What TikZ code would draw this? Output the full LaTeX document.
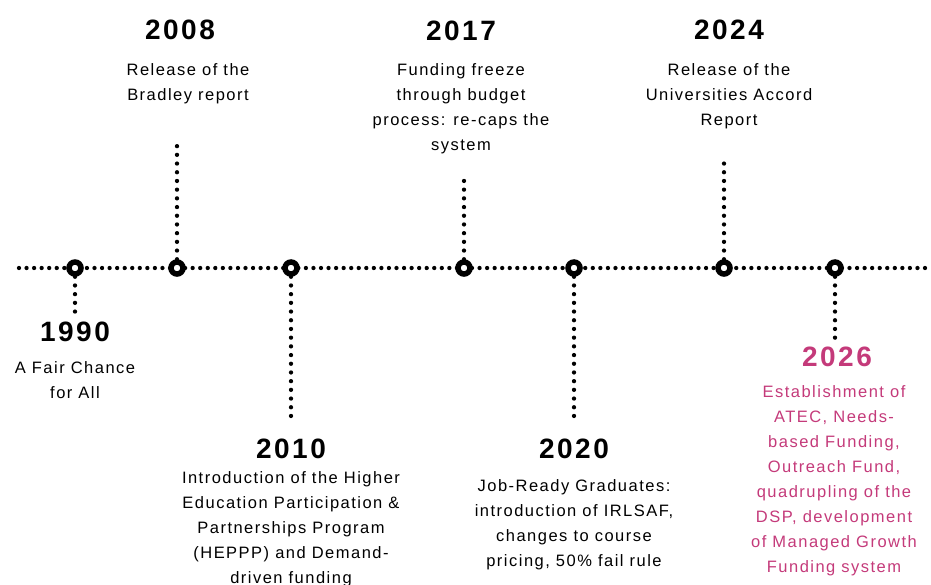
\documentclass[tikz,border=0pt]{standalone}
\usepackage{fontspec}
\setmainfont{Liberation Sans}[LetterSpace=9]
\definecolor{rose}{RGB}{196,58,122}
\begin{document}
\begin{tikzpicture}[x=1pt,y=-1pt,
  hdots/.style={line width=4.3pt, line cap=round, dash pattern=on 0pt off 7.55pt},
  vdots/.style={line width=4.3pt, line cap=round, dash pattern=on 0pt off 8.7pt},
  milestone/.style={circle, draw, line width=5.5pt, fill=white, minimum size=12pt, inner sep=0pt},
  year/.style={font=\fontsize{28}{30}\selectfont\bfseries, inner sep=0pt},
  desc/.style={font=\fontsize{16.5}{25}\selectfont, align=center, anchor=north, inner sep=0pt}]
\useasboundingbox (0,0) rectangle (931,584);

% main time axis
\coordinate (tl) at (19,268);
\coordinate (tr) at (926,268);
\draw[hdots] (tl) -- (tr);

% milestones on the axis
\node[milestone] (c1990) at (75,268) {};
\node[milestone] (c2008) at (177,268) {};
\node[milestone] (c2010) at (291,268) {};
\node[milestone] (c2017) at (464,268) {};
\node[milestone] (c2020) at (574,268) {};
\node[milestone] (c2024) at (724,268) {};
\node[milestone] (c2026) at (835,268) {};

% free ends of the stems
\coordinate (e1990) at (75,313);
\coordinate (e2008) at (177,140);
\coordinate (e2010) at (291,419);
\coordinate (e2017) at (464,180);
\coordinate (e2020) at (574,419);
\coordinate (e2024) at (724,155);
\coordinate (e2026) at (835,340);

\foreach \y in {1990,2008,2010,2017,2020,2024,2026}
  \draw[vdots] (c\y) -- (e\y);

% years and descriptions
\node[year] (y1990) at (75,332) {1990};
\node[desc] (t1990) at (75,361) {A Fair Chance\\for All};

\node[year] (y2008) at (180,30) {2008};
\node[desc] (t2008) at (188,63) {Release of the\\Bradley report};

\node[year] (y2010) at (291,449) {2010};
\node[desc] (t2010) at (291,471) {Introduction of the Higher\\Education Participation \&\\Partnerships Program\\(HEPPP) and Demand-\\driven funding};

\node[year] (y2017) at (461,31) {2017};
\node[desc] (t2017) at (461,63) {Funding freeze\\through budget\\process: re-caps the\\system};

\node[year] (y2020) at (574,449) {2020};
\node[desc] (t2020) at (574,479) {Job-Ready Graduates:\\introduction of IRLSAF,\\changes to course\\pricing, 50\% fail rule};

\node[year] (y2024) at (729,30) {2024};
\node[desc] (t2024) at (729,63) {Release of the\\Universities Accord\\Report};

\node[year, text=rose] (y2026) at (837,357) {2026};
\node[desc, text=rose] (t2026) at (834,385) {Establishment of\\ATEC, Needs-\\based Funding,\\Outreach Fund,\\quadrupling of the\\DSP, development\\of Managed Growth\\Funding system};
\end{tikzpicture}
\end{document}
